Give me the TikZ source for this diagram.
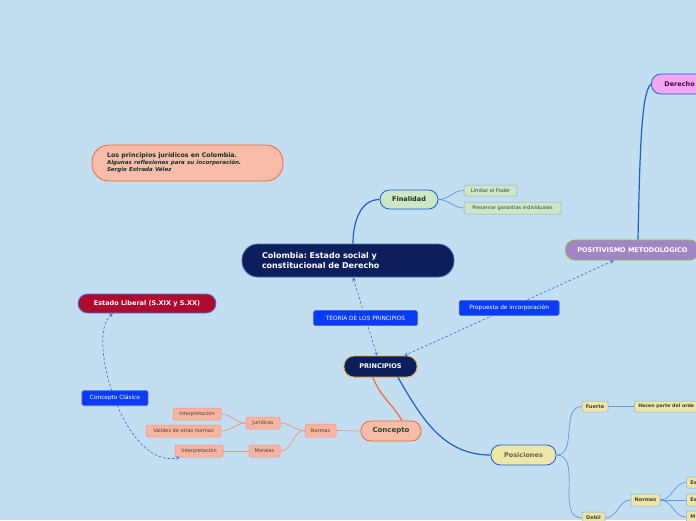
\documentclass[tikz,border=0pt]{standalone}
\usepackage{fontspec}
\setmainfont{DejaVu Sans}
\usetikzlibrary{arrows, positioning, calc}
\definecolor{mapbg}{HTML}{C3DEF0}
\definecolor{navy}{HTML}{0C1F5C}
\definecolor{navyedge}{HTML}{3A6FB0}
\definecolor{gold}{HTML}{E8A830}
\definecolor{salmon}{HTML}{F9BCA8}
\definecolor{salmonedge}{HTML}{F06A3C}
\definecolor{salmonleaf}{HTML}{F8B4A0}
\definecolor{salmonline}{HTML}{F0957E}
\definecolor{mint}{HTML}{CCE7C6}
\definecolor{crimson}{HTML}{B00A2E}
\definecolor{tagblue}{HTML}{0A3CF8}
\definecolor{lilac}{HTML}{A385C5}
\definecolor{limeedge}{HTML}{8CC040}
\definecolor{pink}{HTML}{F2A8F0}
\definecolor{straw}{HTML}{EEE6A6}
\definecolor{linkblue}{HTML}{1A5FD8}
\definecolor{twigblue}{HTML}{5A98E6}
\definecolor{relblue}{HTML}{4A6EE8}
\definecolor{leafedge}{HTML}{8AAED2}
\definecolor{darkgreen}{HTML}{1E4D2B}
\definecolor{inktext}{HTML}{15302A}
\frenchspacing

\begin{document}
\begin{tikzpicture}[x=1pt, y=-1pt,
  topic/.style={rectangle, rounded corners=9.5pt, line width=0.8pt, minimum height=20pt, inner sep=0pt, font=\fontsize{6.5}{8}\selectfont\bfseries},
  leaf/.style={rectangle, rounded corners=2pt, line width=0.5pt, minimum height=12pt, inner sep=0pt, text=black!75, font=\fontsize{5}{6}\selectfont},
  sleaf/.style={leaf, fill=salmonleaf, draw=salmonline},
  gleaf/.style={leaf, fill=mint, draw=leafedge},
  yleaf/.style={leaf, fill=straw, draw=leafedge, font=\fontsize{5}{6}\selectfont\bfseries},
  tag/.style={rectangle, solid, rounded corners=1.5pt, fill=tagblue, draw=relblue, text=white, minimum height=15pt, inner sep=0pt, font=\fontsize{5.8}{7}\selectfont},
  branch/.style={line width=1.2pt, color=linkblue},
  twig/.style={line width=0.7pt, color=twigblue},
  stwig/.style={line width=0.7pt, color=salmonline},
  rel/.style={<->, >=stealth, dash pattern=on 2.5pt off 2pt, line width=0.7pt, color=relblue}
]
\useasboundingbox (0,0) rectangle (696,520);
\clip (0,0) rectangle (696,520);
\fill[mapbg] (0,0) rectangle (696,520);

\node[topic, fill=salmon, draw=salmonedge, rounded corners=17pt, minimum height=36pt, text width=161pt, inner xsep=15pt, align=left, text=inktext] (intro) at (187.5,163)
  {{\fontsize{6.3}{8.5}\selectfont Los principios jurídicos en Colombia.}\\[-1pt]
   {\fontsize{5.5}{7.5}\selectfont\itshape Algunas reflexiones para su incorporación.}\\[-1pt]
   {\fontsize{5.5}{7.5}\selectfont\itshape Sergio Estrada Vélez}};

\node[topic, fill=navy, draw=navyedge, text=white, rounded corners=16pt, minimum height=33pt, text width=172pt, inner xsep=20pt, align=left, font=\fontsize{8}{10.5}\selectfont\bfseries] (root) at (348,260.5)
  {Colombia: Estado social y\\constitucional de Derecho};

\node[topic, fill=mint, draw=linkblue, minimum width=58pt, minimum height=19pt, text=black!85] (fin) at (409,199.5) {Finalidad};
\node[gleaf, minimum width=53pt, minimum height=11pt] (lim) at (490.5,190.5) {Limitar el Poder};
\node[gleaf, minimum width=97pt] (pres) at (512.5,208) {Preservar garantías individuales};

\node[topic, fill=pink, draw=linkblue, anchor=west, text width=70pt, inner xsep=13pt, align=left, text=violet!60!black] (der) at (651,84) {Derecho};
\node[topic, fill=lilac, draw=limeedge, anchor=west, inner xsep=12pt, text=white] (pos) at (565,250) {POSITIVISMO METODOLÓGICO\hspace{12pt}};

\node[topic, fill=crimson, draw=linkblue!80, minimum width=138pt, minimum height=19pt, text=white] (lib) at (147,303.5) {Estado Liberal (S.XIX y S.XX)};

\node[topic, fill=navy, draw=gold, minimum width=73pt, minimum height=21pt, rounded corners=10pt, text=white] (pri) at (380.5,366.5) {PRINCIPIOS};

\node[topic, fill=salmon, draw=salmonedge, minimum width=60pt, text=darkgreen, font=\fontsize{7}{8}\selectfont\bfseries] (con) at (391,431) {Concepto};
\node[sleaf, minimum width=31pt, minimum height=13pt] (nor) at (320.5,430.5) {Normas};
\node[sleaf, minimum width=34pt] (jur) at (263,423) {Jurídicas};
\node[sleaf, minimum width=31pt] (mor) at (264.5,451) {Morales};
\node[sleaf, minimum width=48pt] (int1) at (197,414) {Interpretación};
\node[sleaf, minimum width=75pt] (val) at (183.5,431) {Validez de otras normas};
\node[sleaf, minimum width=48pt] (int2) at (199,451) {Interpretación};

\node[topic, fill=straw, draw=linkblue, minimum width=65pt, text=black!55!olive!70!gray] (posi) at (523.5,455) {Posiciones};
\node[yleaf, minimum width=26pt, minimum height=11pt] (fue) at (595,406.5) {Fuerte};
\node[yleaf, anchor=west, minimum height=11pt, inner xsep=4pt, font=\fontsize{4.7}{6}\selectfont\bfseries] (hac) at (634,406.5) {Hacen parte del orde\hspace{10pt}};
\node[yleaf, minimum width=23pt] (deb) at (593.5,518) {Debil};
\node[yleaf, minimum width=29pt] (nor2) at (645.5,500) {Normas};
\node[yleaf, anchor=west, minimum height=11pt, inner xsep=4pt] (ex1) at (686,482.5) {Ex\hspace{6pt}};
\node[yleaf, anchor=west, inner xsep=4pt] (ex2) at (686,500) {Ex\hspace{6pt}};
\node[yleaf, anchor=west, inner xsep=4pt] (m) at (686,517) {M\hspace{6pt}};

\draw[branch] ([xshift=5pt]root.north) to[out=90, in=180] (fin.west);
\draw[twig] (fin.east) to[out=0, in=180] (lim.west);
\draw[twig] (fin.east) to[out=0, in=180] (pres.west);
\draw[branch] ([xshift=73pt]pos.north west) .. controls (640,140) and (642,92) .. (der.west);
\draw[branch, color=salmonedge] ([xshift=-7.5pt]pri.south) to[out=-70, in=120] ([xshift=11pt]con.north);
\draw[branch] ([xshift=17.5pt]pri.south) to[out=-60, in=180] (posi.west);

\draw[stwig] (con.west) -- (nor.east);
\draw[stwig] (nor.west) to[out=180, in=0] (jur.east);
\draw[stwig] (nor.west) to[out=180, in=0] (mor.east);
\draw[stwig] (jur.west) to[out=180, in=0] (int1.east);
\draw[stwig] (jur.west) to[out=180, in=0] (val.east);
\draw[stwig] (mor.west) -- (int2.east);

\draw[twig] (posi.east) to[out=0, in=180] (fue.west);
\draw[twig] (posi.east) to[out=0, in=180] (deb.west);
\draw[twig] (fue.east) -- (hac.west);
\draw[twig] (deb.east) to[out=0, in=180] (nor2.west);
\draw[twig] (nor2.east) to[out=0, in=180] (ex1.west);
\draw[twig] (nor2.east) -- (ex2.west);
\draw[twig] (nor2.east) to[out=0, in=180] (m.west);

\draw[rel] ([xshift=5pt]root.south) -- node[tag, pos=0.52, minimum width=104pt] (teo) {TEORÍA DE LOS PRINCIPIOS} ([xshift=-3.5pt]pri.north);
\draw[rel] ([xshift=49pt]pos.south west) -- node[tag, minimum width=100pt] (prop) {Propuesta de incorporación} ([xshift=-13pt]pri.north east);
\draw[rel] ([xshift=-34pt]lib.south) .. controls (85,335) and (124,470) .. node[tag, minimum width=66pt] (cc) {Concepto Clásico} ([xshift=5pt]int2.south west);
\end{tikzpicture}
\end{document}
